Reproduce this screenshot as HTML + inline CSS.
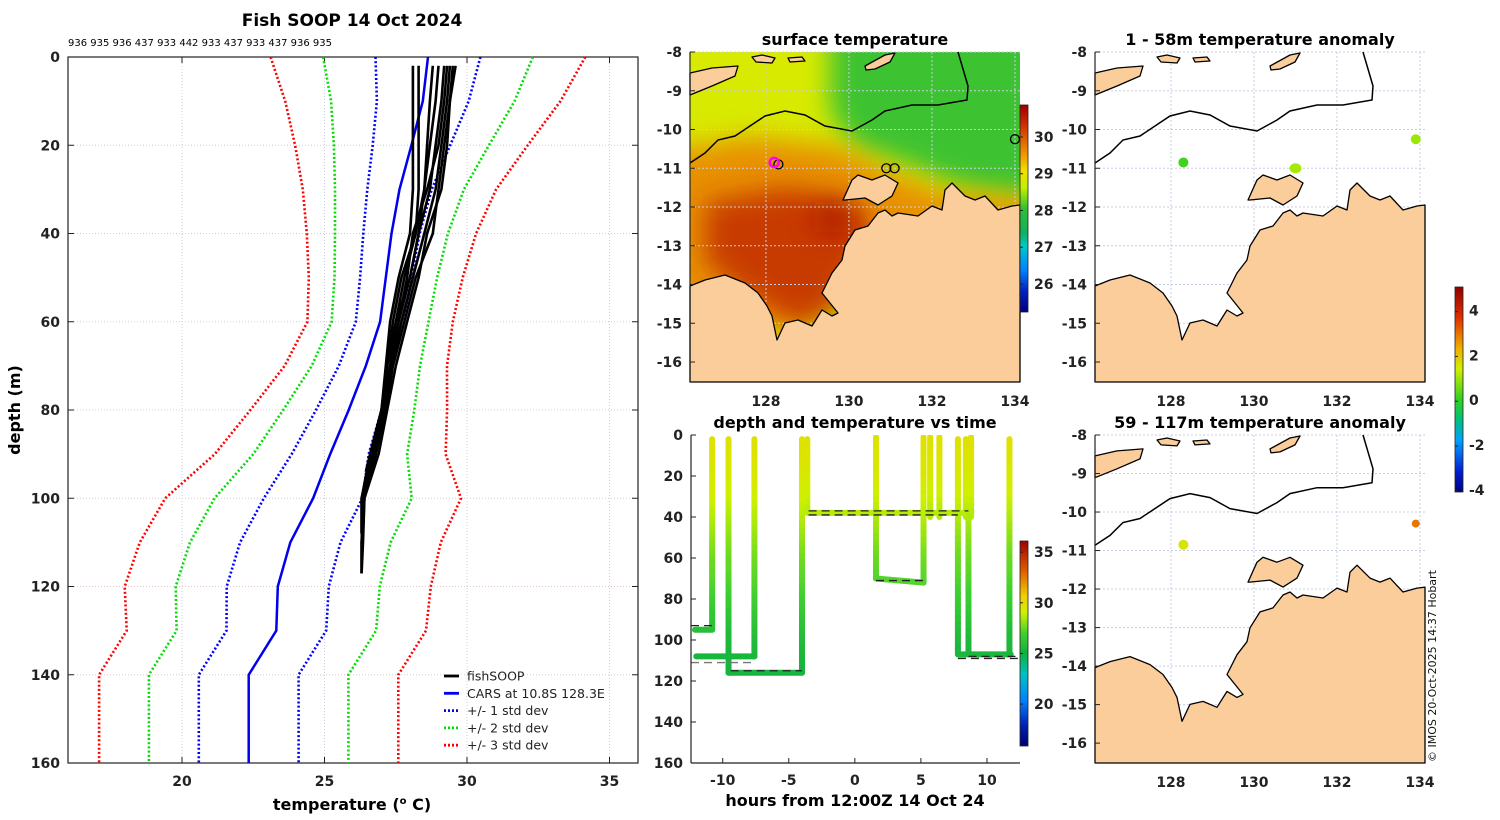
<!DOCTYPE html>
<html><head><meta charset="utf-8"><style>
html,body{margin:0;padding:0;background:#fff;}
svg{display:block;}
text{font-family:"DejaVu Sans","Liberation Sans",sans-serif;}
.tk{font-weight:bold;font-size:14px;fill:#222;}
.tt{font-weight:bold;font-size:16px;fill:#000;}
</style></head><body>
<svg id="fig" width="1500" height="820" viewBox="0 0 1500 820" xmlns="http://www.w3.org/2000/svg">
<defs>
<filter id="blur" filterUnits="userSpaceOnUse" x="600" y="0" width="500" height="450"><feGaussianBlur stdDeviation="13"/></filter>
<linearGradient id="cbSST" x1="0" y1="0" x2="0" y2="1">
<stop offset="0" stop-color="#a00000"/><stop offset="0.1" stop-color="#d03000"/><stop offset="0.25" stop-color="#f0a000"/><stop offset="0.32" stop-color="#f0e000"/><stop offset="0.4" stop-color="#c0f000"/><stop offset="0.5" stop-color="#30c030"/><stop offset="0.62" stop-color="#10b060"/><stop offset="0.68" stop-color="#00c8c8"/><stop offset="0.8" stop-color="#0080ff"/><stop offset="0.9" stop-color="#0020c0"/><stop offset="1" stop-color="#000080"/>
</linearGradient>
<linearGradient id="cbDT" x1="0" y1="0" x2="0" y2="1">
<stop offset="0" stop-color="#a00000"/><stop offset="0.15" stop-color="#e06000"/><stop offset="0.27" stop-color="#f0d000"/><stop offset="0.35" stop-color="#d0f000"/><stop offset="0.45" stop-color="#40d030"/><stop offset="0.55" stop-color="#10b040"/><stop offset="0.65" stop-color="#00c0c0"/><stop offset="0.78" stop-color="#0080ff"/><stop offset="0.9" stop-color="#0020b0"/><stop offset="1" stop-color="#000070"/>
</linearGradient>
<linearGradient id="cbAN" x1="0" y1="0" x2="0" y2="1">
<stop offset="0" stop-color="#900000"/><stop offset="0.15" stop-color="#e03000"/><stop offset="0.3" stop-color="#f0b000"/><stop offset="0.4" stop-color="#d0f000"/><stop offset="0.55" stop-color="#30d020"/><stop offset="0.65" stop-color="#00c080"/><stop offset="0.75" stop-color="#00a0ff"/><stop offset="0.9" stop-color="#0020d0"/><stop offset="1" stop-color="#000080"/>
</linearGradient>
<clipPath id="clipSST"><rect x="690" y="52" width="330" height="330"/></clipPath>
<clipPath id="clipDT"><rect x="691" y="435" width="329" height="328"/></clipPath>
</defs>
<g id="root"></g>
</svg>
<script>
// ---------- LEFT PANEL DATA ----------
const carsDepth = [0,10,20,30,40,50,60,70,80,90,100,110,120,130,140,160];
const carsMean  = [28.63,28.45,28.05,27.63,27.35,27.15,26.95,26.45,25.85,25.2,24.6,23.80,23.36,23.31,22.34,22.34];
const carsStd   = [1.84,1.61,1.36,1.13,0.99,0.9,0.85,0.95,1.15,1.35,1.73,1.76,1.79,1.75,1.75,1.75];
const xTicks = [20,25,30,35];
const yTicks = [0,20,40,60,80,100,120,140,160];
const profDepthA = [2,10,20,30,40,50,60,70,80,90,100,108];
const profDepthB = [2,10,20,30,40,50,60,70,80,90,94];
const profDepthC = [2,10,20,30,40,50,60,70,80,90,100,110,117];
const profTempA = [28.1,28.1,28.1,28.1,28.0,27.6,27.3,27.15,27.0,26.6,26.3,26.3];
const profTempB = [28.3,28.3,28.3,28.3,28.2,27.7,27.4,27.2,27.0,26.7,26.5];
const profTempC = [29.0,28.9,28.7,28.5,28.2,27.8,27.5,27.3,27.05,26.75,26.4,26.3,26.3];
const profTempD = [29.2,29.1,28.9,28.7,28.3,28.0,27.6,27.3,27.1,26.8,26.4,26.35];
const profTempE = [29.4,29.3,29.1,28.9,28.5,28.1,27.7,27.35,27.1,26.75,26.5];
const profTempF = [29.6,29.4,29.2,29.0,28.8,28.2,27.8,27.4,27.15,26.8,26.35,26.3,26.3];
const profTempG = [29.3,29.2,29.0,28.6,28.1,27.9,27.6,27.3,27.0,26.7,26.3,26.3];
const profTempH = [28.8,28.7,28.6,28.5,28.3,28.0,27.5,27.2,27.0,26.6,26.45];
const profTempI = [29.5,29.4,29.3,29.1,28.6,28.3,27.9,27.5,27.2,26.9,26.4,26.35,26.3];
const profileList = [[profDepthA,profTempA],[profDepthB,profTempB],[profDepthC,profTempC],[profDepthA,profTempD],[profDepthB,profTempE],[profDepthC,profTempF],[profDepthA,profTempG],[profDepthB,profTempH],[profDepthC,profTempI]];
const castIds = ["936","935","936","437","933","442","933","437","933","437","936","935"];

// ---------- DEPTH-TIME DATA ----------
const dtHours = [-12.1,-10.8,-10.8, -12.0,-7.6,-7.6, -9.56,-9.56,-4.0,-4.0, -3.6,-3.6,8.6,8.6, 1.6,1.6,5.2,5.2, 5.7,5.7, 6.4,6.4, 7.8,7.8,11.8, 8.4,8.4, 8.8,8.8, 8.6,8.6, 11.7,11.7];
const dtDepth = [95,95,2, 108,108,2, 2,116,116,2, 2,38,38,40, 1,70,72,1, 1,40, 1,40, 2,107,107, 2,40, 1,40, 40,107, 2,107];
const dtBreak = [3,6,10,14,18,20,22,25,27,29,31,33];
const tzDepth = [0,20,40,60,70,80,90,100,110,120];
const tzTemp  = [29.8,29.4,28.6,27.6,27.3,26.8,26.2,25.6,25.3,25.2];
const dtXTicks = [-10,-5,0,5,10];
const dtYTicks = [0,20,40,60,80,100,120,140,160];
const dashH0 = [-12.4,-12.4,-9.4,-3.5,-3.5,1.6,7.8,8.6];
const dashH1 = [-10.8,-7.6,-4.0,8.6,7.8,5.2,12.4,12.4];
const dashD  = [93,111,115,37,39,71,109,108];

// ---------- MAP DATA ----------
const lonTicks = [128,130,132,134];
const latTicks = [-8,-9,-10,-11,-12,-13,-14,-15,-16];
const sstMarkLon = [128.3,130.9,131.1,134.0];
const sstMarkLat = [-10.9,-11.0,-11.0,-10.25];
const an1Lon = [128.3,131.0,133.9];
const an1Lat = [-10.85,-11.0,-10.25];
const an1Val = [0.2,1.1,1.0];
const an2Lon = [128.3,133.9];
const an2Lat = [-10.85,-10.3];
const an2Val = [1.6,3.0];

const NS='http://www.w3.org/2000/svg';
const root=document.getElementById('root');
function mk(tag,attrs,parent,txt){const e=document.createElementNS(NS,tag);for(const k in attrs)e.setAttribute(k,attrs[k]);if(txt!==undefined)e.textContent=txt;(parent||root).appendChild(e);return e;}
function interp(xs,ys,x){if(x<=xs[0])return ys[0];for(let i=1;i<xs.length;i++){if(x<=xs[i]){const t=(x-xs[i-1])/(xs[i]-xs[i-1]);return ys[i-1]+t*(ys[i]-ys[i-1]);}}return ys[ys.length-1];}
function hex(c){return [parseInt(c.slice(1,3),16),parseInt(c.slice(3,5),16),parseInt(c.slice(5,7),16)];}
function cmap(stops,t){t=Math.max(0,Math.min(1,t));for(let i=1;i<stops.length;i++){if(t<=stops[i][0]){const a=hex(stops[i-1][1]),b=hex(stops[i][1]);const f=(t-stops[i-1][0])/(stops[i][0]-stops[i-1][0]);return 'rgb('+a.map((v,j)=>Math.round(v+f*(b[j]-v))).join(',')+')';}}return stops[stops.length-1][1];}
const dtStops=[[0,'#a00000'],[0.15,'#e06000'],[0.27,'#f0d000'],[0.35,'#d0f000'],[0.45,'#40d030'],[0.55,'#10b040'],[0.65,'#00c0c0'],[0.78,'#0080ff'],[0.9,'#0020b0'],[1,'#000070']];
const anStops=[[0,'#900000'],[0.15,'#e03000'],[0.3,'#f0b000'],[0.4,'#d0f000'],[0.55,'#30d020'],[0.65,'#00c080'],[0.75,'#00a0ff'],[0.9,'#0020d0'],[1,'#000080']];

// ========== LEFT PANEL ==========
const L={x0:68,x1:638,y0:57,y1:763,tmin:16,tmax:36,dmax:160};
const lx=t=>L.x0+(t-L.tmin)/(L.tmax-L.tmin)*(L.x1-L.x0);
const ly=d=>L.y0+d/L.dmax*(L.y1-L.y0);
let g=mk('g',{});
mk('text',{x:352,y:26,'text-anchor':'middle','font-size':'17','font-weight':'bold',},g,'Fish SOOP 14 Oct 2024');
mk('text',{x:68,y:46,'font-size':'10',},g,castIds.join(' '));
xTicks.forEach(t=>{mk('line',{x1:lx(t),x2:lx(t),y1:L.y0,y2:L.y1,stroke:'#c8cde6','stroke-width':1,'stroke-dasharray':'1,2'},g);
 mk('line',{x1:lx(t),x2:lx(t),y1:L.y1,y2:L.y1-6,stroke:'#222'},g);mk('line',{x1:lx(t),x2:lx(t),y1:L.y0,y2:L.y0+6,stroke:'#222'},g);
 const e=mk('text',{x:lx(t),y:L.y1+23,'text-anchor':'middle',class:'tk'},g,String(t));});
yTicks.forEach(d=>{mk('line',{x1:L.x0,x2:L.x1,y1:ly(d),y2:ly(d),stroke:'#e0c8c8','stroke-width':1,'stroke-dasharray':'1,2'},g);
 mk('line',{x1:L.x0,x2:L.x0+6,y1:ly(d),y2:ly(d),stroke:'#222'},g);mk('line',{x1:L.x1,x2:L.x1-6,y1:ly(d),y2:ly(d),stroke:'#222'},g);
 const e=mk('text',{x:L.x0-8,y:ly(d)+5,'text-anchor':'end',class:'tk'},g,String(d));});
mk('rect',{x:L.x0,y:L.y0,width:L.x1-L.x0,height:L.y1-L.y0,fill:'none',stroke:'#222','stroke-width':1.2,},g);
const xt=mk('text',{x:352,y:810,'text-anchor':'middle',class:'tt',},g);
xt.innerHTML='temperature (<tspan dy="-6" font-size="10">o</tspan><tspan dy="6"> C)</tspan>';
mk('text',{x:20,y:410,'text-anchor':'middle',class:'tt',transform:'rotate(-90 20 410)',},g,'depth (m)');
function pathFrom(ts,ds){return ts.map((t,i)=>(i?'L':'M')+lx(t).toFixed(1)+','+ly(ds[i]).toFixed(1)).join(' ');}
const stdCols=['#0000ff','#00dd00','#ff0000'];
[1,2,3].forEach((k,i)=>{[1,-1].forEach(s=>{const p=mk('path',{d:pathFrom(carsMean.map((m,j)=>m+s*k*carsStd[j]),carsDepth),fill:'none',stroke:stdCols[i],'stroke-width':2.6,'stroke-dasharray':'2,2.2'},g);
 });});
const cl=mk('path',{d:pathFrom(carsMean,carsDepth),fill:'none',stroke:'#0000ee','stroke-width':2.5},g);

profileList.forEach((pr,i)=>{const p=mk('path',{d:pathFrom(pr[1],pr[0].slice(0,pr[1].length)),fill:'none',stroke:'#000','stroke-width':2.6},g);
 });
const leg=mk('g',{},g);
[['fishSOOP','#000',''],['CARS at 10.8S 128.3E','#0000ee',''],['+/- 1 std dev','#0000ff','2,2'],['+/- 2 std dev','#00dd00','2,2'],['+/- 3 std dev','#ff0000','2,2']].forEach((e,i)=>{
 const y=676+i*17.3;const ge=mk('g',{},leg);
 mk('line',{x1:444,x2:459,y1:y,y2:y,stroke:e[1],'stroke-width':2.8,'stroke-dasharray':e[2]},ge);
 mk('text',{x:467,y:y+4.5,'font-size':'12.5',fill:'#222'},ge,e[0]);});

// ========== MAP HELPERS ==========
const coast=[[0,234],[15,228],[35,223],[55,231],[68,241],[77,254],[82,264],[87,288],[95,271],[108,268],[122,274],[132,258],[142,264],[148,261],[132,241],[142,221],[152,208],[155,194],[165,178],[178,174],[188,161],[195,158],[202,164],[208,161],[228,164],[242,154],[252,158],[255,138],[262,131],[275,144],[285,148],[295,144],[308,158],[322,154],[330,153],[330,330],[0,330]];
const island=[[153,148],[162,128],[168,123],[182,128],[195,123],[208,131],[202,144],[188,153],[175,146],[155,148]];
const timor=[[0,21],[22,16],[48,14],[45,24],[22,34],[0,43]];
const isl2=[[175,14],[195,3],[205,1],[200,10],[185,17],[176,18]];
const isl3=[[62,5],[72,3],[85,6],[82,11],[66,10]];
const isl4=[[98,6],[112,5],[115,9],[100,10]];
const isobath=[[0,111],[15,101],[28,88],[45,84],[75,64],[95,59],[115,63],[135,74],[162,79],[182,68],[195,59],[222,53],[248,53],[277,48],[278,34],[268,0]];
function drawMap(bx,by,bw,bh,name,sst){
 const G=mk('g',{});
 const sx=bw/330,sy=bh/330;
 const P=pts=>pts.map(p=>(bx+p[0]*sx).toFixed(1)+','+(by+p[1]*sy).toFixed(1)).join(' ');
 const mx=lon=>bx+(lon-126.17)*41.5*sx;
 const my=lat=>by+(-8-lat)*38.75*sy;
 if(sst){const F=mk('g',{'clip-path':'url(#clipSST)',},G);
  mk('rect',{x:bx,y:by,width:bw,height:bh,fill:'#d8ea00'},F);
  mk('polygon',{points:P([[140,-30],[360,-30],[360,150],[270,135],[210,110],[165,95],[140,60]]),fill:'#3cc230',filter:'url(#blur)'},F);
  mk('polygon',{points:P([[-30,100],[60,85],[150,95],[200,120],[250,140],[360,150],[360,185],[180,185],[110,280],[-30,270]]),fill:'#e89000',filter:'url(#blur)'},F);
  mk('polygon',{points:P([[15,150],[100,135],[155,150],[185,175],[170,220],[145,262],[110,275],[60,245],[15,210]]),fill:'#c02800',opacity:0.8,filter:'url(#blur)'},F);
  mk('rect',{x:bx+125*sx,y:by+150*sy,width:40*sx,height:30*sy,fill:'#a81000',opacity:0.7,filter:'url(#blur)'},F);
 }else{mk('rect',{x:bx,y:by,width:bw,height:bh,fill:'#fff'},G);}
 lonTicks.forEach(l=>mk('line',{x1:mx(l),x2:mx(l),y1:by,y2:by+bh,stroke:'#c8cde6','stroke-dasharray':'2,2'},G));
 latTicks.forEach(l=>{if(my(l)<by+bh)mk('line',{x1:bx,x2:bx+bw,y1:my(l),y2:my(l),stroke:'#c8cde6','stroke-dasharray':'2,2'},G);});
 [coast,island,timor,isl2,isl3,isl4].forEach(c=>{const p=mk('polygon',{points:P(c),fill:'#fbcd9a',stroke:'#000','stroke-width':1.3,'stroke-linejoin':'round'},G);});
 mk('polyline',{points:P(isobath),fill:'none',stroke:'#000','stroke-width':1.5,},G);
 mk('line',{x1:bx,x2:bx,y1:by,y2:by+bh,stroke:'#222','stroke-width':1.2},G);
 latTicks.forEach(l=>{const y=my(l);if(y>by+bh)return;mk('line',{x1:bx,x2:bx+5,y1:y,y2:y,stroke:'#222'},G);
  const e=mk('text',{x:bx-8,y:y+5,'text-anchor':'end',class:'tk'},G,String(l));});
 lonTicks.forEach(l=>{const e=mk('text',{x:mx(l),y:by+bh+(sst!==null?24:21),'text-anchor':'middle',class:'tk'},G,String(l));});
 return {G,mx,my};
}
// SST map
let m1=drawMap(690,52,330,330,'surface-temperature-map',true);
mk('text',{x:855,y:45,'text-anchor':'middle',class:'tt',},root,'surface temperature');
sstMarkLon.forEach((lo,i)=>{const c=mk('circle',{cx:m1.mx(lo),cy:m1.my(sstMarkLat[i]),r:4.5,fill:'none',stroke:'#000','stroke-width':1.3},m1.G);});
const mg=mk('circle',{cx:m1.mx(128.2),cy:m1.my(-10.85),r:4.5,fill:'none',stroke:'#ff00ff','stroke-width':2.6},m1.G);

mk('rect',{x:1020,y:105,width:8,height:207,fill:'url(#cbSST)',stroke:'#222','stroke-width':0.8,});
[30,29,28,27,26].forEach(v=>{const y=105+(30.87-v)*36.75;mk('line',{x1:1020,x2:1023,y1:y,y2:y,stroke:'#222'});
 const e=mk('text',{x:1034,y:y+5,class:'tk','font-size':'13'},root,String(v));});

// Anomaly maps
let m2=drawMap(1095,52,330,330,'anomaly-map-shallow',false);
mk('text',{x:1260,y:45,'text-anchor':'middle',class:'tt',},root,'1 - 58m temperature anomaly');
an1Lon.forEach((lo,i)=>{const c=mk('ellipse',{cx:m2.mx(lo),cy:m2.my(an1Lat[i]),rx:i==1?6:5,ry:5,fill:cmap(anStops,(5.1-an1Val[i])/9.15)},m2.G);});
let m3=drawMap(1095,435,330,328,'anomaly-map-deep',false);
mk('text',{x:1260,y:428,'text-anchor':'middle',class:'tt',},root,'59 - 117m temperature anomaly');
an2Lon.forEach((lo,i)=>{const c=mk('ellipse',{cx:m3.mx(lo),cy:m3.my(an2Lat[i]),rx:i==0?5:4,ry:i==0?5:4,fill:cmap(anStops,(5.1-an2Val[i])/9.15)},m3.G);});
mk('rect',{x:1455,y:287,width:8,height:205,fill:'url(#cbAN)',stroke:'#222','stroke-width':0.8,});
[4,2,0,-2,-4].forEach(v=>{const y=287+(5.1-v)*22.4;mk('line',{x1:1455,x2:1458,y1:y,y2:y,stroke:'#222'});
 const e=mk('text',{x:1469,y:y+4,class:'tk','font-size':'11'},root,String(v));});

// ========== DEPTH-TIME PANEL ==========
const D={x0:691,x1:1020,y0:435,y1:763,hmin:-12.4,hmax:12.5,dmax:160};
const dx=h=>D.x0+(h-D.hmin)/(D.hmax-D.hmin)*(D.x1-D.x0);
const dy=d=>D.y0+d/D.dmax*(D.y1-D.y0);
const DG=mk('g',{});
mk('text',{x:855,y:428,'text-anchor':'middle',class:'tt',},DG,'depth and temperature vs time');
const TR=mk('g',{'clip-path':'url(#clipDT)',},DG);
let start=0;
dtBreak.forEach(end=>{for(let i=start;i<end-1;i++){const h0=dtHours[i],h1=dtHours[i+1],d0=dtDepth[i],d1=dtDepth[i+1];
  const n=Math.max(1,Math.ceil(Math.abs(d1-d0)/3));
  for(let k=0;k<n;k++){const a=k/n,b=(k+1)/n;const dm=d0+(a+b)/2*(d1-d0);
   const s=mk('line',{x1:dx(h0+a*(h1-h0)),y1:dy(d0+a*(d1-d0)),x2:dx(h0+b*(h1-h0)),y2:dy(d0+b*(d1-d0)),stroke:cmap(dtStops,(36.1-interp(tzDepth,tzTemp,dm))/20.25),'stroke-width':6,'stroke-linecap':'round'},TR);
   }}
 start=end;});
dashH0.forEach((h,i)=>{const l=mk('line',{x1:dx(h),x2:dx(dashH1[i]),y1:dy(dashD[i]),y2:dy(dashD[i]),stroke:i==1?'#777':'#222','stroke-width':1.3,'stroke-dasharray':'8,5'},TR);
 });
mk('line',{x1:D.x0,x2:D.x0,y1:D.y0,y2:D.y1,stroke:'#222','stroke-width':1.2},DG);
mk('line',{x1:D.x0,x2:D.x1,y1:D.y1,y2:D.y1,stroke:'#222','stroke-width':1.2},DG);
dtYTicks.forEach(d=>{mk('line',{x1:D.x0,x2:D.x0+5,y1:dy(d),y2:dy(d),stroke:'#222'},DG);
 const e=mk('text',{x:D.x0-8,y:dy(d)+5,'text-anchor':'end',class:'tk'},DG,String(d));});
dtXTicks.forEach(h=>{mk('line',{x1:dx(h),x2:dx(h),y1:D.y1,y2:D.y1-5,stroke:'#222'},DG);
 const e=mk('text',{x:dx(h),y:D.y1+22,'text-anchor':'middle',class:'tk'},DG,String(h));});
mk('text',{x:855,y:806,'text-anchor':'middle',class:'tt',},DG,'hours from 12:00Z 14 Oct 24');
mk('rect',{x:1020,y:541,width:8,height:205,fill:'url(#cbDT)',stroke:'#222','stroke-width':0.8,});
[35,30,25,20].forEach(v=>{const y=541+(36.1-v)*10.13;mk('line',{x1:1020,x2:1023,y1:y,y2:y,stroke:'#222'});
 const e=mk('text',{x:1034,y:y+5,class:'tk','font-size':'13'},root,String(v));});

mk('text',{x:1436,y:762,'font-size':'11',fill:'#111',transform:'rotate(-90 1436 762)',},root,'© IMOS 20-Oct-2025 14:37 Hobart');
</script>
</body></html>
